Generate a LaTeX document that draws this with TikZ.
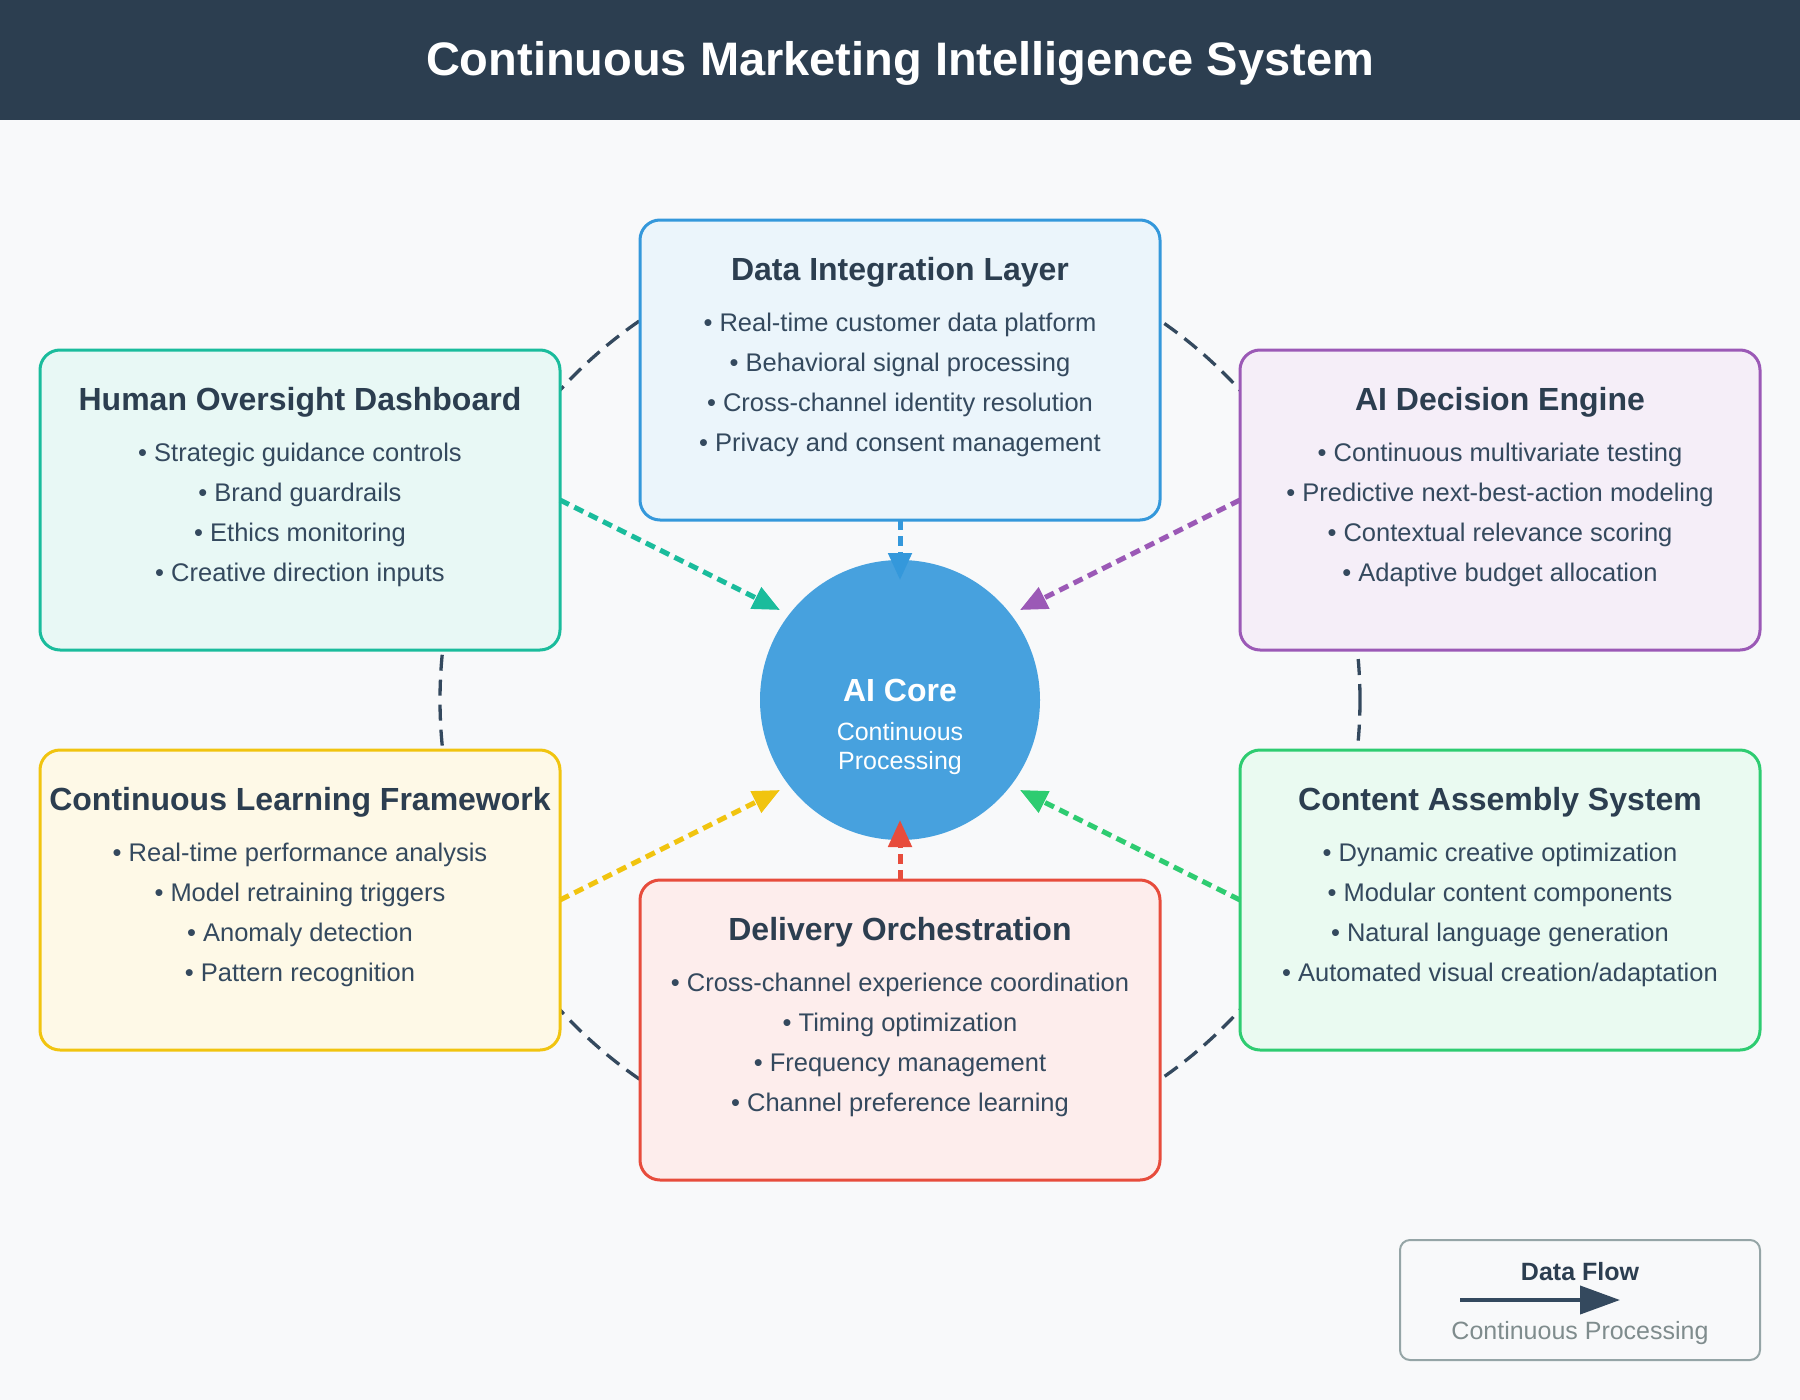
\documentclass[tikz,border=0pt]{standalone}
\usepackage{fontspec}
\setmainfont{Liberation Sans}
\usepackage{xcolor}
\usepackage{tikz}
\usetikzlibrary{arrows.meta,calc}
\definecolor{bgc}{HTML}{F8F9FA}
\definecolor{navy}{HTML}{2C3E50}
\definecolor{slate}{HTML}{34495E}
\definecolor{datC}{HTML}{3498DB}
\definecolor{datF}{HTML}{EBF5FB}
\definecolor{humC}{HTML}{1ABC9C}
\definecolor{humF}{HTML}{E8F8F5}
\definecolor{decC}{HTML}{9B59B6}
\definecolor{decF}{HTML}{F5EEF8}
\definecolor{cntC}{HTML}{2ECC71}
\definecolor{cntF}{HTML}{EAFAF1}
\definecolor{delC}{HTML}{E74C3C}
\definecolor{delF}{HTML}{FDEDEC}
\definecolor{lrnC}{HTML}{F1C40F}
\definecolor{lrnF}{HTML}{FEF9E7}
\definecolor{greyC}{HTML}{95A5A6}
\definecolor{greyT}{HTML}{7F8C8D}

\begin{document}
\begin{tikzpicture}[x=1pt,y=-1pt,
		box/.style={draw,rounded corners=20pt,line width=3pt,minimum width=520pt,minimum height=300pt,outer sep=0pt},
		ttl/.style={text=navy,font=\fontsize{32}{38}\selectfont\bfseries},
		itm/.style={text=slate,font=\fontsize{25.5}{30}\selectfont},
		ring/.style={draw=slate,line width=3.3pt,dash pattern=on 16pt off 9pt},
		flow/.style={line width=5pt,dash pattern=on 10pt off 6pt,-{Triangle[length=27pt,width=23pt]}}]
			% Nền và tiêu đề
			\fill[bgc] (0,0) rectangle (1800,1400);
			\useasboundingbox (0,0) rectangle (1800,1400);
			\fill[navy] (0,0) rectangle (1800,120);
			\node[text=white,font=\fontsize{47}{56}\selectfont\bfseries] (title) at (900,63) {Continuous Marketing Intelligence System};
			% Vòng nối
			\coordinate (core) at (900,700);
			\draw[ring] (core) circle[radius=460pt];
			% Các khối
			\node[box,draw=datC,fill=datF] (dat) at (900,370) {};
			\node[ttl] (dat-t) at ($(dat.north)+(0,52)$) {Data Integration Layer};
			\foreach \t[count=\i] in {Real-time customer data platform,Behavioral signal processing,Cross-channel identity resolution,Privacy and consent management}
			\node[itm] (dat-\i) at ($(dat.north)+(0,64.5+40.2*\i)$) {• \t};
			\node[box,draw=humC,fill=humF] (hum) at (300,500) {};
			\node[ttl] (hum-t) at ($(hum.north)+(0,52)$) {Human Oversight Dashboard};
			\foreach \t[count=\i] in {Strategic guidance controls,Brand guardrails,Ethics monitoring,Creative direction inputs}
			\node[itm] (hum-\i) at ($(hum.north)+(0,64.5+40.2*\i)$) {• \t};
			\node[box,draw=decC,fill=decF] (dec) at (1500,500) {};
			\node[ttl] (dec-t) at ($(dec.north)+(0,52)$) {AI Decision Engine};
			\foreach \t[count=\i] in {Continuous multivariate testing,Predictive next-best-action modeling,Contextual relevance scoring,Adaptive budget allocation}
			\node[itm] (dec-\i) at ($(dec.north)+(0,64.5+40.2*\i)$) {• \t};
			\node[box,draw=lrnC,fill=lrnF] (lrn) at (300,900) {};
			\node[ttl] (lrn-t) at ($(lrn.north)+(0,52)$) {Continuous Learning Framework};
			\foreach \t[count=\i] in {Real-time performance analysis,Model retraining triggers,Anomaly detection,Pattern recognition}
			\node[itm] (lrn-\i) at ($(lrn.north)+(0,64.5+40.2*\i)$) {• \t};
			\node[box,draw=cntC,fill=cntF] (cnt) at (1500,900) {};
			\node[ttl] (cnt-t) at ($(cnt.north)+(0,52)$) {Content Assembly System};
			\foreach \t[count=\i] in {Dynamic creative optimization,Modular content components,Natural language generation,Automated visual creation/adaptation}
			\node[itm] (cnt-\i) at ($(cnt.north)+(0,64.5+40.2*\i)$) {• \t};
			\node[box,draw=delC,fill=delF] (del) at (900,1030) {};
			\node[ttl] (del-t) at ($(del.north)+(0,52)$) {Delivery Orchestration};
			\foreach \t[count=\i] in {Cross-channel experience coordination,Timing optimization,Frequency management,Channel preference learning}
			\node[itm] (del-\i) at ($(del.north)+(0,64.5+40.2*\i)$) {• \t};
			% Lõi AI
			\node[circle,fill=datC,fill opacity=0.9,minimum size=280pt,inner sep=0pt] (aic) at (core) {};
			\node[text=white,font=\fontsize{32}{38}\selectfont\bfseries] (aic-t) at (900,690) {AI Core};
			\node[text=white,font=\fontsize{25}{30}\selectfont] (aic-1) at (900,732) {Continuous};
			\node[text=white,font=\fontsize{25}{30}\selectfont] (aic-2) at (900,763) {Processing};
			% Mũi tên vào lõi
			\draw[flow,datC] (dat.south) -- ($(aic)+(0,-120)$);
			\draw[flow,humC] (hum.east) -- ($(aic)+(-120,-90)$);
			\draw[flow,decC] (dec.west) -- ($(aic)+(120,-90)$);
			\draw[flow,lrnC] (lrn.east) -- ($(aic)+(-120,90)$);
			\draw[flow,cntC] (cnt.west) -- ($(aic)+(120,90)$);
			\draw[flow,delC] (del.north) -- ($(aic)+(0,120)$);
			% Chú thích
			\node[draw=greyC,line width=2pt,rounded corners=10pt,minimum width=360pt,minimum height=120pt,fill=bgc] (leg) at (1580,1300) {};
			\node[text=navy,font=\fontsize{25}{30}\selectfont\bfseries] (leg-t) at (1580,1272) {Data Flow};
			\coordinate (leg-a) at (1460,1300);
			\coordinate (leg-b) at (1620,1300);
			\draw[slate,line width=4pt,-{Triangle[length=40pt,width=28pt]}] (leg-a) -- (leg-b);
			\node[text=greyT,font=\fontsize{25}{30}\selectfont] (leg-s) at (1580,1333) {Continuous Processing};
		\end{tikzpicture}
\end{document}
